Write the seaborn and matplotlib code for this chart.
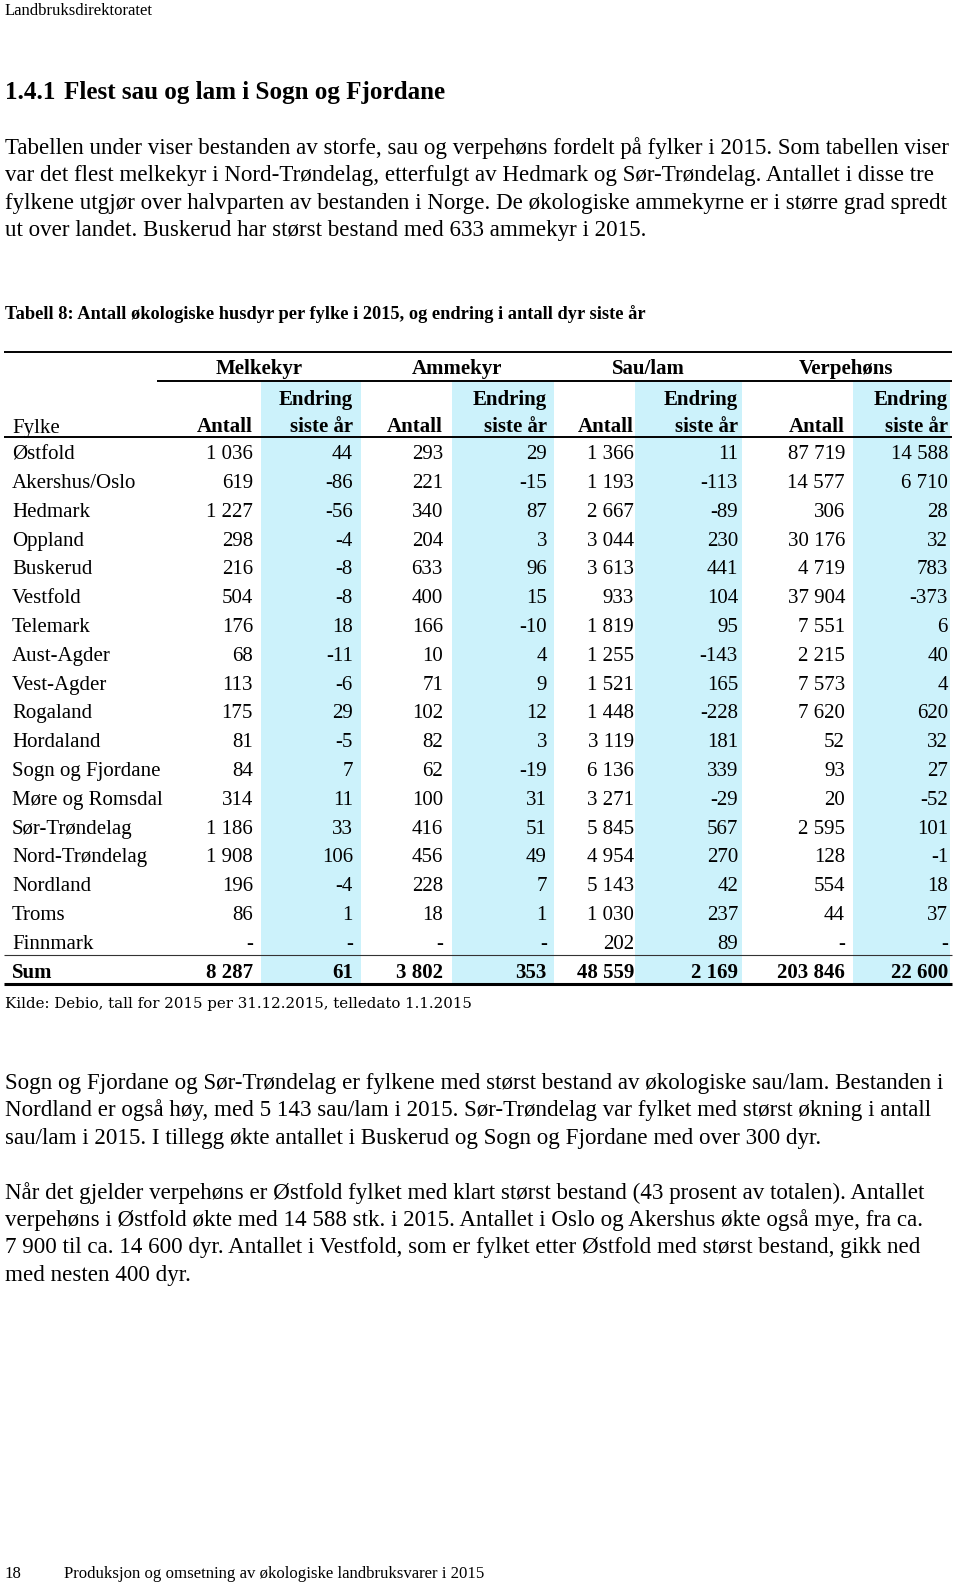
import numpy as np
import pandas as pd
import matplotlib
matplotlib.use("Agg")
import matplotlib.pyplot as plt
from matplotlib.colors import ListedColormap
import seaborn as sns

# Tabell 8
fylker = ["Østfold", "Akershus/Oslo", "Hedmark", "Oppland", "Buskerud", "Vestfold",
          "Telemark", "Aust-Agder", "Vest-Agder", "Rogaland", "Hordaland",
          "Sogn og Fjordane", "Møre og Romsdal", "Sør-Trøndelag", "Nord-Trøndelag",
          "Nordland", "Troms", "Finnmark"]
melk_antall = [1036, 619, 1227, 298, 216, 504, 176, 68, 113, 175, 81, 84, 314, 1186, 1908, 196, 86, None]
melk_endr = [44, -86, -56, -4, -8, -8, 18, -11, -6, 29, -5, 7, 11, 33, 106, -4, 1, None]
amme_antall = [293, 221, 340, 204, 633, 400, 166, 10, 71, 102, 82, 62, 100, 416, 456, 228, 18, None]
amme_endr = [29, -15, 87, 3, 96, 15, -10, 4, 9, 12, 3, -19, 31, 51, 49, 7, 1, None]
sau_antall = [1366, 1193, 2667, 3044, 3613, 933, 1819, 1255, 1521, 1448, 3119, 6136, 3271, 5845, 4954, 5143, 1030, 202]
sau_endr = [11, -113, -89, 230, 441, 104, 95, -143, 165, -228, 181, 339, -29, 567, 270, 42, 237, 89]
verp_antall = [87719, 14577, 306, 30176, 4719, 37904, 7551, 2215, 7573, 7620, 52, 93, 20, 2595, 128, 554, 44, None]
verp_endr = [14588, 6710, 28, 32, 783, -373, 6, 40, 4, 620, 32, 27, -52, 101, -1, 18, 37, None]
sum_row = [8287, 61, 3802, 353, 48559, 2169, 203846, 22600]

groups = ["Melkekyr", "Ammekyr", "Sau/lam", "Verpehøns"]

# page text
header_txt = "Landbruksdirektoratet"
section_no = "1.4.1"
section_txt = "Flest sau og lam i Sogn og Fjordane"
para1 = ["Tabellen under viser bestanden av storfe, sau og verpehøns fordelt på fylker i 2015. Som tabellen viser",
         "var det flest melkekyr i Nord-Trøndelag, etterfulgt av Hedmark og Sør-Trøndelag. Antallet i disse tre",
         "fylkene utgjør over halvparten av bestanden i Norge. De økologiske ammekyrne er i større grad spredt",
         "ut over landet. Buskerud har størst bestand med 633 ammekyr i 2015."]
caption = "Tabell 8: Antall økologiske husdyr per fylke i 2015, og endring i antall dyr siste år"
kilde = "Kilde: Debio, tall for 2015 per 31.12.2015, telledato 1.1.2015"
para2 = ["Sogn og Fjordane og Sør-Trøndelag er fylkene med størst bestand av økologiske sau/lam. Bestanden i",
         "Nordland er også høy, med 5 143 sau/lam i 2015. Sør-Trøndelag var fylket med størst økning i antall",
         "sau/lam i 2015. I tillegg økte antallet i Buskerud og Sogn og Fjordane med over 300 dyr."]
para3 = ["Når det gjelder verpehøns er Østfold fylket med klart størst bestand (43 prosent av totalen). Antallet",
         "verpehøns i Østfold økte med 14 588 stk. i 2015. Antallet i Oslo og Akershus økte også mye, fra ca.",
         "7 900 til ca. 14 600 dyr. Antallet i Vestfold, som er fylket etter Østfold med størst bestand, gikk ned",
         "med nesten 400 dyr."]
footer_no = "18"
footer_txt = "Produksjon og omsetning av økologiske landbruksvarer i 2015"

sns.set_theme(style="white")
plt.rcParams["font.family"] = ["Liberation Serif", "DejaVu Serif"]
SERIF = "Liberation Serif"
BLUE = "#ccf2fb"


def fmt(v):
    if v is None:
        return "-"
    return f"{v:,}".replace(",", " ")


columns = [melk_antall, melk_endr, amme_antall, amme_endr, sau_antall, sau_endr, verp_antall, verp_endr]
table = pd.DataFrame({j: [fmt(v) for v in col] + [fmt(sum_row[j])] for j, col in enumerate(columns)},
                     index=fylker + ["Sum"])

W, H = 960, 1584
fig = plt.figure(figsize=(W / 100, H / 100), dpi=100)

# page axes in pixel coordinates, drawn on top of the table cells
page = fig.add_axes([0, 0, 1, 1], zorder=5)
page.set_xlim(0, W)
page.set_ylim(H, 0)
page.axis("off")
renderer = fig.canvas.get_renderer()


def width_of(s, size, weight="normal", family=SERIF):
    t = page.text(0, 0, s, fontsize=size, fontweight=weight, family=family)
    w = t.get_window_extent(renderer).width
    t.remove()
    return w


def fit(s, target, weight="normal", family=SERIF):
    return 20 * target / width_of(s, 20, weight, family)


def put(x, y, s, size, weight="normal", ha="left", family=SERIF):
    page.text(x, y, s, fontsize=size, fontweight=weight, ha=ha, va="baseline",
              family=family, color="black")


fs_body = fit(para1[-1], 641)
fs_tab = fit("Akershus/Oslo", 123.5)
fs_small = fit(header_txt, 148)
fs_head = fit(section_txt, 382, "bold")
fs_cap = fit(caption, 636, "bold")
fs_kilde = fit(kilde, 466, family="DejaVu Serif")
fs_foot = fit(footer_txt, 420)

# top of page
put(5, 15, header_txt, fs_small)
put(5, 99, section_no, fs_head, "bold")
put(64, 99, section_txt, fs_head, "bold")
for i, line in enumerate(para1):
    put(5, 154 + 27.4 * i, line, fs_body)
put(5, 319, caption, fs_cap, "bold")

# table layout (pixels)
col_left = [157, 261, 361, 452, 554, 635, 742, 853]
col_right = [261, 361, 452, 554, 635, 742, 853, 950]
text_right = [253, 353, 443, 547, 634, 738, 845, 948]
body_top, body_bot = 437, 984
n_rows = len(table)
row_h = (body_bot - body_top) / n_rows
base_off = (459.3 - body_top) / row_h

for j in range(8):
    ax = fig.add_axes([col_left[j] / W, 1 - body_bot / H,
                       (col_right[j] - col_left[j]) / W, (body_bot - body_top) / H], zorder=1)
    flag = np.full((n_rows, 1), j % 2)
    sns.heatmap(flag, ax=ax, cmap=ListedColormap(["white", BLUE]), vmin=0, vmax=1, cbar=False,
                annot=table[[j]].values, fmt="",
                annot_kws=dict(fontsize=fs_tab, color="black", family=SERIF),
                xticklabels=False, yticklabels=False)
    xr = (text_right[j] - col_left[j]) / (col_right[j] - col_left[j])
    for k, t in enumerate(ax.texts):
        t.set_ha("right")
        t.set_va("baseline")
        t.set_position((xr, k + base_off))
        t.set_color("black")
        if k == n_rows - 1:
            t.set_fontweight("bold")
    ax.set_xlabel("")
    ax.set_ylabel("")

# header of the table
for j in range(1, 8, 2):
    page.fill_between([col_left[j], col_right[j]], 382, body_top, color=BLUE, lw=0, zorder=0)
for g, name in enumerate(groups):
    put((col_left[2 * g] + col_right[2 * g + 1]) / 2, 374, name, fs_tab, "bold", ha="center")
    put(text_right[2 * g], 432.5, "Antall", fs_tab, "bold", ha="right")
    put(text_right[2 * g + 1], 405.5, "Endring", fs_tab, "bold", ha="right")
    put(text_right[2 * g + 1], 432.5, "siste år", fs_tab, "bold", ha="right")
put(12, 432.5, "Fylke", fs_tab)

for i, name in enumerate(table.index):
    put(12, body_top + (i + base_off) * row_h, name, fs_tab, "bold" if name == "Sum" else "normal")

page.hlines(352, 4, 952, color="black", lw=1.4)
page.hlines(381, 157, 952, color="black", lw=1.4)
page.hlines(body_top, 4, 952, color="black", lw=1.4)
page.hlines(body_top + (n_rows - 1) * row_h, 4, 952, color="#333333", lw=0.8)
page.hlines(body_bot, 4, 952, color="black", lw=2.2)

put(5, 1008, kilde, fs_kilde, family="DejaVu Serif")

for i, line in enumerate(para2):
    put(5, 1089 + 27.4 * i, line, fs_body)
for i, line in enumerate(para3):
    put(5, 1198.5 + 27.4 * i, line, fs_body)

put(5, 1578, footer_no, fs_foot)
put(64, 1578, footer_txt, fs_foot)

fig.savefig("out.png", dpi=100)
